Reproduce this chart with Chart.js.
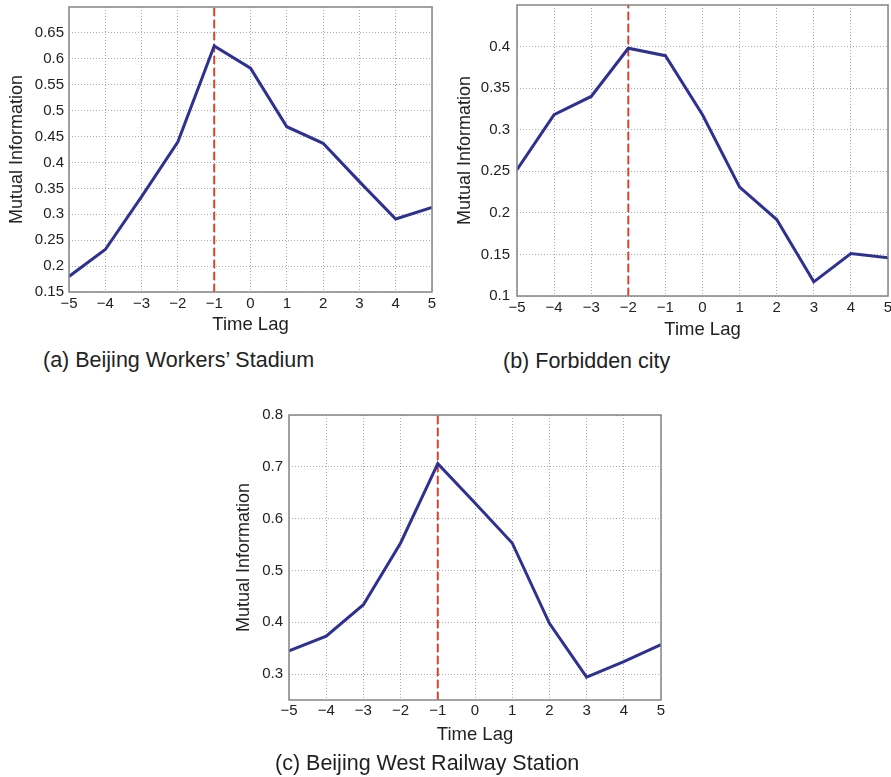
<!DOCTYPE html>
<html>
<head>
<meta charset="utf-8">
<title>Mutual information vs time lag</title>
<script src="https://cdn.jsdelivr.net/npm/chart.js@4.4.1/dist/chart.umd.min.js"></script>
<style>
  body { margin: 0; background: #fff; width: 891px; height: 777px; position: relative; overflow: hidden;
         font-family: "Liberation Sans", Arial, sans-serif; color: #222; }
  canvas { position: absolute; }
  .caption { position: absolute; font-size: 21.5px; line-height: 1; white-space: nowrap; }
</style>
</head>
<body>
<canvas id="chartA" width="445" height="345" style="left:0;top:0"></canvas>
<canvas id="chartB" width="446" height="345" style="left:445px;top:0"></canvas>
<canvas id="chartC" width="460" height="382" style="left:220px;top:395px"></canvas>
<div class="caption" style="left:43px;top:350px">(a) Beijing Workers’ Stadium</div>
<div class="caption" style="left:503px;top:351px">(b) Forbidden city</div>
<div class="caption" style="left:275px;top:753px">(c) Beijing West Railway Station</div>

<script>
// time lags on the x axis
const lags = [-5, -4, -3, -2, -1, 0, 1, 2, 3, 4, 5];

// mutual information per lag
const miStadium   = [0.180, 0.232, 0.334, 0.440, 0.625, 0.582, 0.469, 0.437, 0.363, 0.291, 0.313];
const miForbidden = [0.252, 0.318, 0.340, 0.398, 0.389, 0.318, 0.231, 0.192, 0.117, 0.151, 0.146];
const miRailway   = [0.345, 0.373, 0.434, 0.553, 0.706, 0.630, 0.553, 0.398, 0.294, 0.324, 0.357];

// lag of the maximum (red marker)
const peakStadium = -1;
const peakForbidden = -2;
const peakRailway = -1;

// y tick labels
const yTicksStadium   = [0.15, 0.2, 0.25, 0.3, 0.35, 0.4, 0.45, 0.5, 0.55, 0.6, 0.65];
const yTicksForbidden = [0.1, 0.15, 0.2, 0.25, 0.3, 0.35, 0.4];
const yTicksRailway   = [0.3, 0.4, 0.5, 0.6, 0.7, 0.8];

Chart.defaults.font.family = "'Liberation Sans', Arial, sans-serif";
Chart.defaults.color = '#222';

const plotFrame = {
    id: 'plotFrame',
    afterDraw(chart) {
        const { ctx, chartArea: a } = chart;
        ctx.save();
        ctx.strokeStyle = '#858585';
        ctx.lineWidth = 1.5;
        ctx.strokeRect(a.left, a.top, a.right - a.left, a.bottom - a.top);
        ctx.restore();
    }
};

const gridStyle = {
    color: 'rgba(90,90,90,0.5)',
    lineWidth: 1,
    drawTicks: false
};

function fmtLag(v) {
    return v < 0 ? '\u2212' + Math.abs(v) : String(v);
}

function makeChart(id, values, peak, yMin, yMax, yTicks, g) {
    const ctx = document.getElementById(id).getContext('2d');
    return new Chart(ctx, {
        type: 'line',
        data: {
            datasets: [{
                data: lags.map((x, i) => ({ x: x, y: values[i] })),
                borderColor: '#2e3192',
                borderWidth: 3,
                pointRadius: 0,
                tension: 0
            }, {
                data: [{ x: peak, y: yMin }, { x: peak, y: yMax }],
                borderColor: '#e2412c',
                borderWidth: 2,
                borderDash: [8, 4],
                pointRadius: 0
            }]
        },
        options: {
            responsive: false,
            animation: false,
            layout: { padding: g.padding },
            plugins: {
                legend: { display: false },
                tooltip: { enabled: false }
            },
            scales: {
                x: {
                    type: 'linear',
                    min: -5,
                    max: 5,
                    grid: gridStyle,
                    border: { display: false, dash: [1, 2] },
                    afterBuildTicks: (s) => { s.ticks = lags.map(v => ({ value: v })); },
                    afterFit: (s) => { s.height = g.xHeight; s.paddingLeft = 0; s.paddingRight = 0; },
                    ticks: {
                        padding: g.xTickPad,
                        font: { size: 15 },
                        maxRotation: 0,
                        callback: (v) => fmtLag(v)
                    },
                    title: {
                        display: true,
                        text: 'Time Lag',
                        font: { size: 18.5 },
                        padding: 0
                    }
                },
                y: {
                    min: yMin,
                    max: yMax,
                    grid: gridStyle,
                    border: { display: false, dash: [1, 2] },
                    afterBuildTicks: (s) => { s.ticks = yTicks.map(v => ({ value: v })); },
                    afterFit: (s) => { s.width = g.yWidth; s.paddingTop = 0; s.paddingBottom = 0; },
                    ticks: {
                        padding: g.yTickPad,
                        font: { size: 15 },
                        callback: (v) => String(Number(v.toFixed(2)))
                    },
                    title: {
                        display: true,
                        text: 'Mutual Information',
                        font: { size: 18 },
                        padding: { top: g.yTitlePad, bottom: 0 }
                    }
                }
            }
        },
        plugins: [plotFrame]
    });
}

makeChart('chartA', miStadium, peakStadium, 0.15, 0.70, yTicksStadium, {
    padding: { top: 7, right: 13, bottom: 9, left: 0 },
    xHeight: 44, yWidth: 69, xTickPad: 3, yTickPad: 5, yTitlePad: 6
});

makeChart('chartB', miForbidden, peakForbidden, 0.10, 0.45, yTicksForbidden, {
    padding: { top: 5, right: 3, bottom: 4, left: 0 },
    xHeight: 45, yWidth: 72, xTickPad: 3, yTickPad: 7, yTitlePad: 9
});

makeChart('chartC', miRailway, peakRailway, 0.25, 0.80, yTicksRailway, {
    padding: { top: 20, right: 19, bottom: 31, left: 0 },
    xHeight: 46, yWidth: 69, xTickPad: 2, yTickPad: 6, yTitlePad: 13
});
</script>
</body>
</html>
